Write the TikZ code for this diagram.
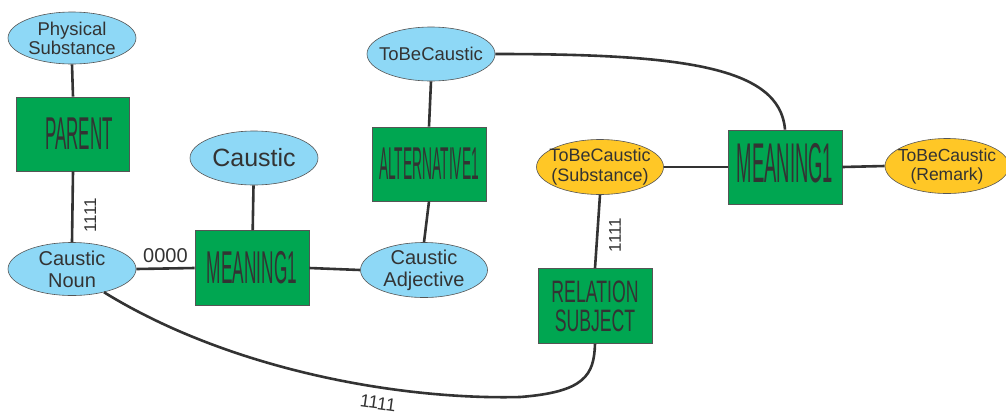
\documentclass[tikz,border=0pt]{standalone}
\usepackage{fontspec}
\setmainfont{Liberation Sans}
\usetikzlibrary{shapes.geometric}
\definecolor{ellblue}{HTML}{8ED8F6}
\definecolor{ellyel}{HTML}{FFC726}
\definecolor{boxgreen}{HTML}{00A651}
\definecolor{txt}{HTML}{333333}
\definecolor{edgec}{HTML}{333333}
\definecolor{rim}{HTML}{555555}
\newcommand{\fs}[2]{\fontsize{#1}{#2}\selectfont}
\newcommand{\cond}[3]{\scalebox{#1}[1]{\fontsize{#2}{#2}\selectfont #3}}
\begin{document}
\begin{tikzpicture}[x=1pt,y=-1pt,
  blueell/.style={ellipse,draw=rim,line width=0.6pt,fill=ellblue,inner sep=0pt},
  yelell/.style={blueell,fill=ellyel},
  lt/.style={text=txt,align=center,inner sep=0pt},
  gbox/.style={rectangle,draw=rim,line width=0.8pt,fill=boxgreen,inner sep=0pt,text=txt,align=center},
  link/.style={draw=edgec,line width=2.6pt},
  lbl/.style={text=txt,inner sep=0pt}]
\useasboundingbox (0,0) rectangle (1006,416);

% nodes
\node[blueell,minimum width=128,minimum height=52,label={[lt,font=\fs{18.5}{19}]center:{Physical\\Substance}}] (ps) at (72,38) {};
\node[gbox,minimum width=113,minimum height=74] (parent) at (73,134) {\hspace*{12pt}\cond{0.37}{46}{PARENT}};
\node[blueell,minimum width=128,minimum height=54,label={[lt,font=\fs{25}{27}]center:{Caustic}}] (caustic) at (254,158) {};
\node[blueell,minimum width=128,minimum height=53,label={[lt,font=\fs{20}{22}]center:{Caustic\\Noun}}] (cn) at (72,269) {};
\node[gbox,minimum width=114,minimum height=75] (m1) at (252,268) {\cond{0.375}{46}{MEANING1}};
\node[blueell,minimum width=127,minimum height=55,label={[lt,font=\fs{20}{22}]center:{Caustic\\Adjective}}] (ca) at (424,270) {};
\node[gbox,minimum width=114,minimum height=74] (alt) at (429,164) {\cond{0.30}{46}{ALTERNATIVE1}};
\node[blueell,minimum width=128,minimum height=54,label={[lt,font=\fs{18.5}{20}]center:{ToBeCaustic}}] (tb) at (431,54) {};
\node[yelell,minimum width=127,minimum height=55,label={[lt,font=\fs{18}{20}]center:{ToBeCaustic\\(Substance)}}] (tbs) at (600,167) {};
\node[gbox,minimum width=114,minimum height=74] (m2) at (785,167) {\raisebox{8pt}{\cond{0.33}{56}{MEANING1}}};
\node[yelell,minimum width=124,minimum height=55,label={[lt,font=\fs{17.5}{19}]center:{ToBeCaustic\\(Remark)}}] (tbr) at (947,166) {};
\node[gbox,minimum width=114,minimum height=75] (rs) at (595,306) {\cond{0.57}{31}{RELATION}\\[6pt]\cond{0.57}{31}{SUBJECT}};

% connectors
\draw[link] (ps.south) -- (parent.north);
\draw[link] (parent.south) -- node[lbl,rotate=90,anchor=north,pos=0.62,outer sep=12pt,font=\fs{17}{17}] {1111} (cn.north);
\draw[link] (caustic) -- (m1);
\draw[link] (cn.east) -- node[lbl,above=5pt,midway,font=\fs{20}{20}] {0000} (m1.west);
\draw[link] (m1.east) -- (ca.west);
\draw[link] (alt.south) -- (ca.north);
\draw[link] (tb.south) -- (alt.north);
\draw[link] (tbs.east) -- (m2.west);
\draw[link] (m2.east) -- (tbr.west);
\draw[link] (tbs.south) -- node[lbl,rotate=90,anchor=north,pos=0.55,outer sep=12pt,font=\fs{17}{17}] {1111} (rs.north);
\draw[link] (tb.east) .. controls (680,54) and (780,66) .. (m2.north);
\draw[link] (cn.-36) .. controls (230,370) and (400,400) .. (520,397)
  .. controls (585,392) and (594,375) .. (rs.south);
\node[lbl,rotate=-8,font=\fs{18}{18}] (bl) at (378,403) {1111};
\end{tikzpicture}
\end{document}
